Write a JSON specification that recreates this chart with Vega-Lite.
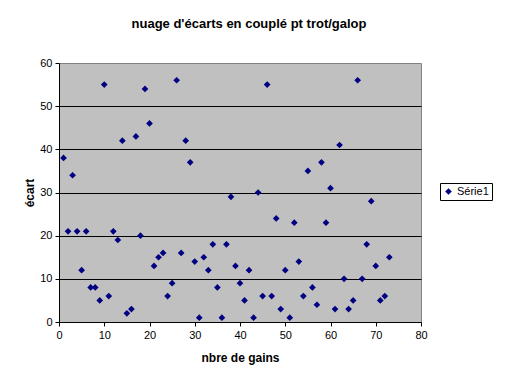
{
  "$schema": "https://vega.github.io/schema/vega-lite/v6.json",
  "autosize": "none",
  "width": 362,
  "height": 259,
  "padding": {"left": 59, "top": 63, "right": 91, "bottom": 65},
  "background": "white",
  "config": {
    "font": "Liberation Sans",
    "view": {"fill": "#C0C0C0", "stroke": "#808080", "strokeWidth": 1}
  },
  "title": {
    "text": "nuage d'écarts en couplé pt trot/galop",
    "font": "Liberation Sans",
    "fontSize": 13,
    "fontWeight": "bold",
    "color": "black",
    "anchor": "middle",
    "frame": "group",
    "dx": 9,
    "offset": 26
  },
  "data": {
    "values": [
      {"gains": 1, "ecart": 38}, {"gains": 2, "ecart": 21}, {"gains": 3, "ecart": 34},
      {"gains": 4, "ecart": 21}, {"gains": 5, "ecart": 12}, {"gains": 6, "ecart": 21},
      {"gains": 7, "ecart": 8}, {"gains": 8, "ecart": 8}, {"gains": 9, "ecart": 5},
      {"gains": 10, "ecart": 55}, {"gains": 11, "ecart": 6}, {"gains": 12, "ecart": 21},
      {"gains": 13, "ecart": 19}, {"gains": 14, "ecart": 42}, {"gains": 15, "ecart": 2},
      {"gains": 16, "ecart": 3}, {"gains": 17, "ecart": 43}, {"gains": 18, "ecart": 20},
      {"gains": 19, "ecart": 54}, {"gains": 20, "ecart": 46}, {"gains": 21, "ecart": 13},
      {"gains": 22, "ecart": 15}, {"gains": 23, "ecart": 16}, {"gains": 24, "ecart": 6},
      {"gains": 25, "ecart": 9}, {"gains": 26, "ecart": 56}, {"gains": 27, "ecart": 16},
      {"gains": 28, "ecart": 42}, {"gains": 29, "ecart": 37}, {"gains": 30, "ecart": 14},
      {"gains": 31, "ecart": 1}, {"gains": 32, "ecart": 15}, {"gains": 33, "ecart": 12},
      {"gains": 34, "ecart": 18}, {"gains": 35, "ecart": 8}, {"gains": 36, "ecart": 1},
      {"gains": 37, "ecart": 18}, {"gains": 38, "ecart": 29}, {"gains": 39, "ecart": 13},
      {"gains": 40, "ecart": 9}, {"gains": 41, "ecart": 5}, {"gains": 42, "ecart": 12},
      {"gains": 43, "ecart": 1}, {"gains": 44, "ecart": 30}, {"gains": 45, "ecart": 6},
      {"gains": 46, "ecart": 55}, {"gains": 47, "ecart": 6}, {"gains": 48, "ecart": 24},
      {"gains": 49, "ecart": 3}, {"gains": 50, "ecart": 12}, {"gains": 51, "ecart": 1},
      {"gains": 52, "ecart": 23}, {"gains": 53, "ecart": 14}, {"gains": 54, "ecart": 6},
      {"gains": 55, "ecart": 35}, {"gains": 56, "ecart": 8}, {"gains": 57, "ecart": 4},
      {"gains": 58, "ecart": 37}, {"gains": 59, "ecart": 23}, {"gains": 60, "ecart": 31},
      {"gains": 61, "ecart": 3}, {"gains": 62, "ecart": 41}, {"gains": 63, "ecart": 10},
      {"gains": 64, "ecart": 3}, {"gains": 65, "ecart": 5}, {"gains": 66, "ecart": 56},
      {"gains": 67, "ecart": 10}, {"gains": 68, "ecart": 18}, {"gains": 69, "ecart": 28},
      {"gains": 70, "ecart": 13}, {"gains": 71, "ecart": 5}, {"gains": 72, "ecart": 6},
      {"gains": 73, "ecart": 15}
    ]
  },
  "mark": {"type": "point", "shape": "diamond", "filled": true, "size": 45, "opacity": 1},
  "encoding": {
    "x": {
      "field": "gains",
      "type": "quantitative",
      "scale": {"domain": [0, 80], "nice": false, "zero": true},
      "axis": {
        "title": "nbre de gains",
        "values": [0, 10, 20, 30, 40, 50, 60, 70, 80],
        "grid": false,
        "domainColor": "black",
        "tickColor": "black",
        "tickSize": 4,
        "labelFontSize": 11,
        "labelColor": "black",
        "labelPadding": 3,
        "labelFlush": false,
        "titleFontSize": 12,
        "titleFontWeight": "bold",
        "titleColor": "black",
        "titlePadding": 12
      }
    },
    "y": {
      "field": "ecart",
      "type": "quantitative",
      "scale": {"domain": [0, 60], "nice": false},
      "axis": {
        "title": "écart",
        "values": [0, 10, 20, 30, 40, 50, 60],
        "grid": true,
        "gridColor": {"condition": {"test": "datum.value === 60 || datum.value === 0", "value": "transparent"}, "value": "black"},
        "gridOpacity": 1,
        "domainColor": "black",
        "tickColor": "black",
        "tickSize": 4,
        "labelFontSize": 11,
        "labelColor": "black",
        "labelPadding": 3,
        "labelFlush": false,
        "titleFontSize": 12,
        "titleFontWeight": "bold",
        "titleColor": "black",
        "titlePadding": 3
      }
    },
    "color": {
      "datum": "Série1",
      "scale": {"range": ["#000080"]},
      "legend": {
        "title": null,
        "orient": "none",
        "legendX": 381,
        "legendY": 120,
        "strokeColor": "black",
        "fillColor": "white",
        "padding": 3,
        "symbolType": "diamond",
        "symbolSize": 45,
        "labelOffset": 3,
        "labelFontSize": 11,
        "labelColor": "black",
        "labelFont": "Liberation Sans"
      }
    }
  }
}
